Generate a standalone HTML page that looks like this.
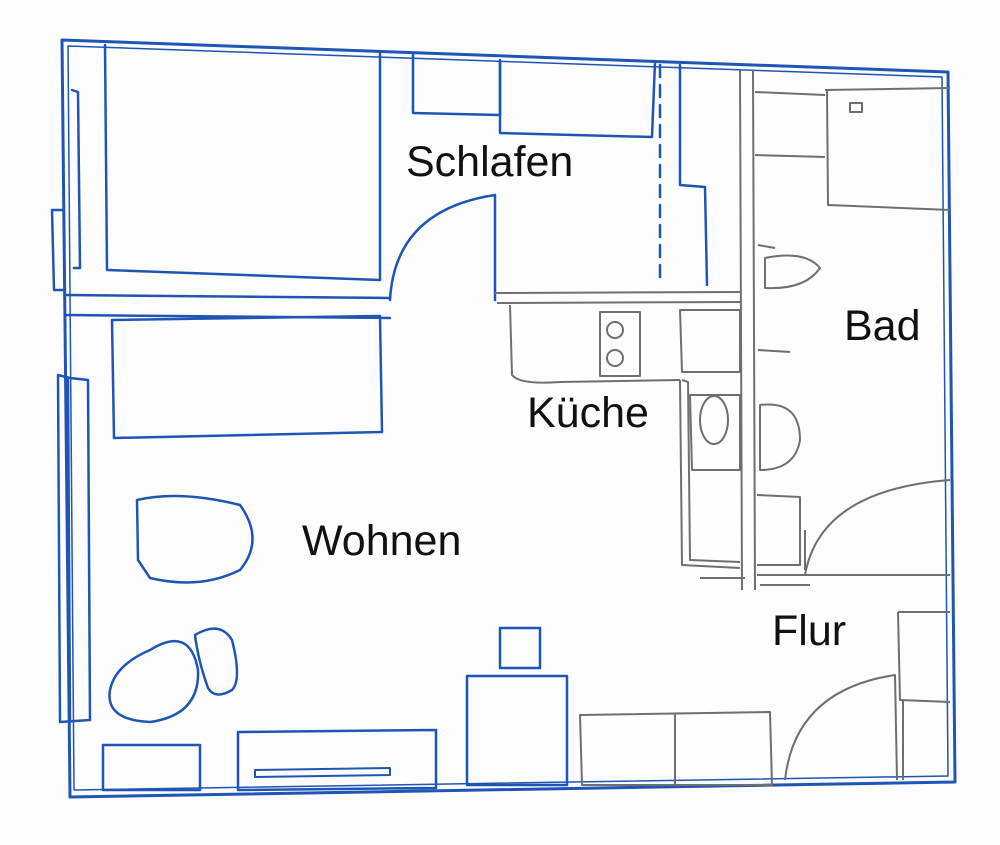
<!DOCTYPE html>
<html><head><meta charset="utf-8"><style>
html,body{margin:0;padding:0;background:#fff;}
svg{display:block}
text{font-family:"Liberation Sans",sans-serif;font-size:43px;fill:#111;}
</style></head><body>
<svg width="1000" height="845" viewBox="0 0 1000 845" xmlns="http://www.w3.org/2000/svg">
<rect width="1000" height="845" fill="#fdfdfd"/>
<g fill="none" stroke="#1f55b5" stroke-width="2.5" stroke-linejoin="round" stroke-linecap="round">
<path d="M62,40 L948,72 L955,782 L70,797 Z" stroke-width="3"/>
<path d="M68,46 L942,77 L948,776 L74,790 Z" stroke-width="1.5"/>
<path d="M72,90 L78,92 L80,268 L74,268"/>
<path d="M52,210 L62,210 M52,210 L54,290 L64,290"/>
<path d="M58,375 L70,378 L88,380 L90,720 L60,722 Z"/>
<path d="M68,380 L70,720"/>
<path d="M105,45 L107,270 L380,280 L380,52"/>
<path d="M65,295 L390,298 M65,315 L390,318"/>
<path d="M390,300 Q395,210 495,195 L495,300"/>
<path d="M413,55 L413,113 L500,115 L500,60"/>
<path d="M500,62 L500,133 L652,137 L655,62"/>
<path d="M660,65 L660,285" stroke-dasharray="12,8"/>
<path d="M680,65 L680,185 L705,187 L707,285"/>
<path d="M112,320 L380,316 L382,432 L114,438 Z"/>
<path d="M137,500 Q180,490 240,505 Q265,540 240,570 Q200,590 150,578 L138,560 Z"/>
<path d="M150,650 Q190,625 198,670 Q200,715 150,722 Q105,720 110,690 Q115,665 150,650 Z"/>
<path d="M195,635 Q220,620 232,640 Q242,680 232,690 Q215,700 208,688 Q198,660 195,635 Z"/>
<path d="M103,745 L200,745 L200,790 L103,790 Z"/>
<path d="M238,732 L436,730 L436,788 L238,790 Z"/>
<path d="M255,770 L390,768 L390,775 L255,777 Z" stroke-width="2"/>
<path d="M500,628 L540,628 L540,668 L500,668 Z"/>
<path d="M467,676 L567,676 L567,785 L467,785 Z"/>
</g>
<g fill="none" stroke="#6f6f6f" stroke-width="2" stroke-linejoin="round">
<path d="M740,70 L742,590 M753,70 L755,590"/>
<path d="M495,293 L740,292 M497,303 L740,302"/>
<path d="M510,305 L512,375 Q520,385 560,382 L680,380"/>
<path d="M600,312 L640,312 L640,376 L600,376 Z"/>
<circle cx="615" cy="330" r="8"/><circle cx="615" cy="358" r="8"/>
<path d="M680,310 L740,310 L740,372 L682,372 Z"/>
<path d="M682,380 L688,382 L690,560 L740,562 M680,380 L682,565 L740,568"/>
<path d="M690,395 L740,395 L740,470 L692,470 Z"/>
<ellipse cx="714" cy="420" rx="14" ry="24"/>
<path d="M700,578 L745,578"/>
<path d="M755,92 L825,95 M755,155 L825,157"/>
<path d="M825,90 L950,88 M827,90 L828,205 L950,210"/>
<path d="M850,103 L862,103 L862,112 L850,112 Z"/>
<path d="M765,258 Q805,250 820,268 Q805,290 765,288 Z"/>
<path d="M758,245 L775,248 M758,350 L790,352"/>
<path d="M760,405 Q800,400 800,440 Q795,470 760,470 Z"/>
<path d="M757,495 L800,497 L800,565 L757,565"/>
<path d="M805,570 L805,530 M805,575 Q820,490 950,480"/>
<path d="M757,575 L950,575 M760,585 L810,585"/>
<path d="M785,780 Q795,690 895,675 L897,780"/>
<path d="M898,612 L950,612 M898,612 L900,700 L950,702 M903,700 L903,780"/>
<path d="M580,715 L770,712 L772,785 L582,785 Z M675,713 L675,785"/>
</g>
<text x="406" y="176">Schlafen</text>
<text x="844" y="340">Bad</text>
<text x="527" y="427">Küche</text>
<text x="302" y="555">Wohnen</text>
<text x="772" y="645">Flur</text>
</svg>
</body></html>
